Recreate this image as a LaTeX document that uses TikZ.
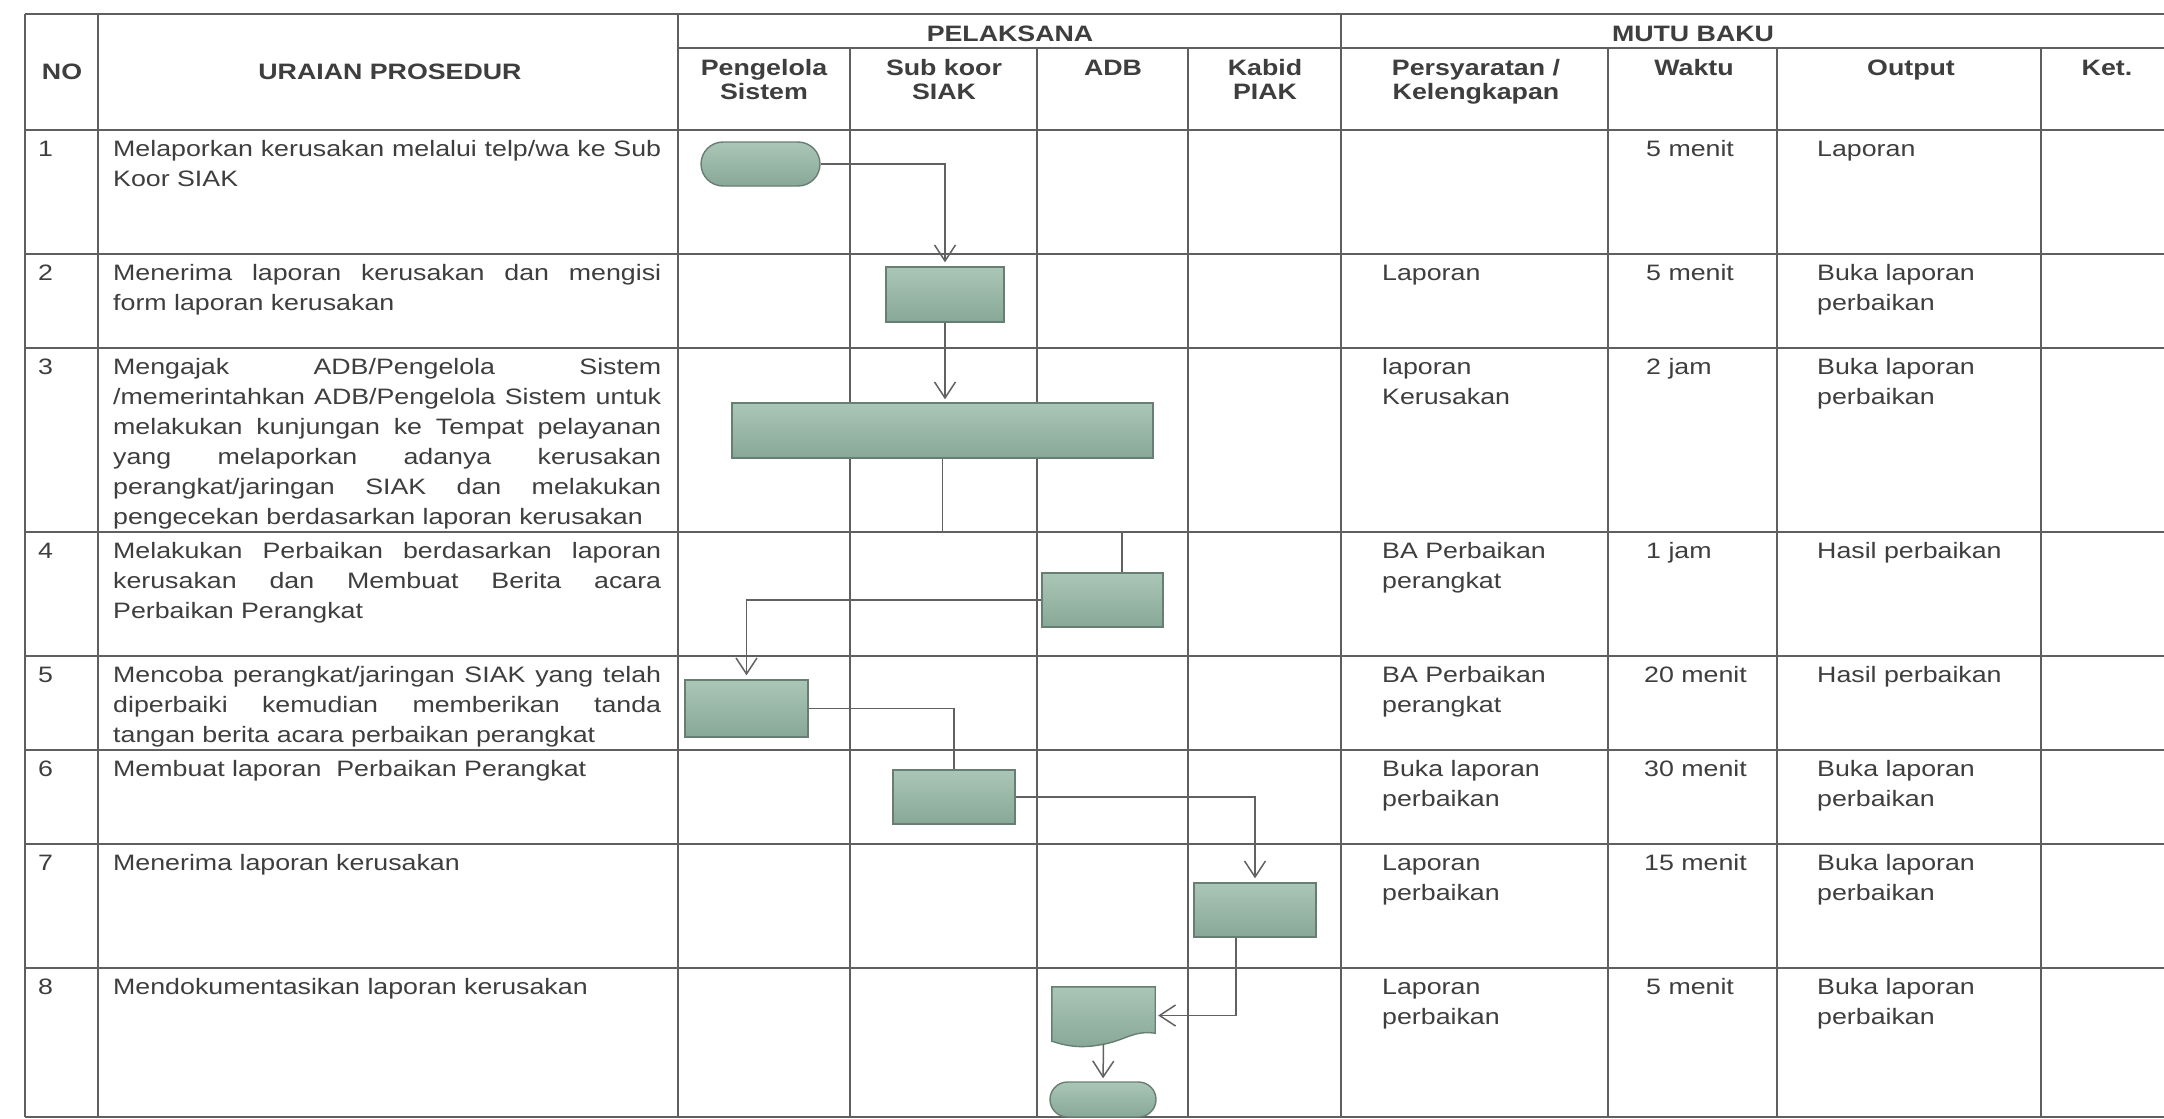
\documentclass[tikz,border=0pt]{standalone}
\usepackage{fontspec}
\setmainfont[FakeStretch=1.2]{Liberation Sans}
\usetikzlibrary{positioning,arrows.meta,calc,shapes.misc}

\definecolor{boxtop}{RGB}{170,198,182}
\definecolor{boxbot}{RGB}{136,168,151}
\definecolor{boxline}{RGB}{105,126,115}
\definecolor{gridline}{RGB}{95,95,95}
\definecolor{ink}{RGB}{62,62,62}

\newcommand{\rowstrut}{\rule{0pt}{22pt}}
\newcommand{\bodyfont}{\fontsize{22.3}{30}\selectfont}
\newcommand{\headfont}{\fontsize{22.3}{24}\selectfont\bfseries}
\lineskiplimit=-100pt
\hyphenpenalty=10000
\tolerance=10000
\setlength{\parindent}{0pt}

\begin{document}
\begin{tikzpicture}[
  x=1pt, y=-1pt,
  >={Straight Barb[length=16pt,width=21pt]},
  grid/.style={draw=gridline, line width=1.6pt},
  txt/.style={inner sep=0pt, anchor=north west, font=\bodyfont, text=ink, align=left},
  uraian/.style={txt, text width=548pt, align=justify},
  head/.style={inner sep=0pt, anchor=north, font=\headfont, text=ink, align=center},
  proc/.style={rectangle, draw=boxline, line width=1.4pt, top color=boxtop, bottom color=boxbot,
    minimum width=#1, minimum height=55pt, inner sep=0pt},
  term/.style={rounded rectangle, draw=boxline, line width=1.4pt, top color=boxtop, bottom color=boxbot,
    minimum width=#1, inner sep=0pt},
  link/.style={draw=black!62, line width=1.5pt}
]

\fill[white] (0,0) rectangle (2164,1119);
\useasboundingbox (0,0) rectangle (2164,1119);

% garis tabel
\draw[grid] (25,14) -- (2164,14);
\draw[grid] (678,48) -- (2164,48);
\foreach \y in {130,254,348,532,656,750,844,968,1117}
  \draw[grid] (25,\y) -- (2164,\y);
\foreach \x in {25,98,678,1341}
  \draw[grid] (\x,14) -- (\x,1117);
\foreach \x in {850,1037,1188,1608,1777,2041}
  \draw[grid] (\x,48) -- (\x,1117);

% kepala tabel
\node (hNo) [head] at (62,57) {\rowstrut NO};
\node (hUraian) [head] at (390,57) {\rowstrut URAIAN PROSEDUR};
\node (hPel) [head] at (1010,19) {\rowstrut PELAKSANA};
\node (hMutu) [head] at (1693,19) {\rowstrut MUTU BAKU};
\node (hPeng) [head] at (764,53.5) {\rowstrut Pengelola\\Sistem};
\node (hSub) [head] at (944,53.5) {\rowstrut Sub koor\\SIAK};
\node (hAdb) [head] at (1113,53.5) {\rowstrut ADB};
\node (hKabid) [head] at (1265,53.5) {\rowstrut Kabid\\PIAK};
\node (hSyarat) [head] at (1476,53.5) {\rowstrut Persyaratan /\\Kelengkapan};
\node (hWaktu) [head] at (1694,53.5) {\rowstrut Waktu};
\node (hOutput) [head] at (1911,53.5) {\rowstrut Output};
\node (hKet) [head] at (2107,53.5) {\rowstrut Ket.};

% kolom NO
\node (no1) [txt] at (38,134) {\rowstrut 1};
\node (no2) [txt] at (38,258) {\rowstrut 2};
\node (no3) [txt] at (38,352) {\rowstrut 3};
\node (no4) [txt] at (38,536) {\rowstrut 4};
\node (no5) [txt] at (38,660) {\rowstrut 5};
\node (no6) [txt] at (38,754) {\rowstrut 6};
\node (no7) [txt] at (38,848) {\rowstrut 7};
\node (no8) [txt] at (38,972) {\rowstrut 8};

% kolom uraian
\node (ur1) [uraian] at (113,134) {\rowstrut Melaporkan kerusakan melalui telp/wa ke Sub\linebreak Koor SIAK};
\node (ur2) [uraian] at (113,258) {\rowstrut Menerima laporan kerusakan dan mengisi\linebreak form laporan kerusakan};
\node (ur3) [uraian] at (113,352) {\rowstrut Mengajak ADB/Pengelola Sistem\linebreak
  /memerintahkan ADB/Pengelola Sistem untuk\linebreak melakukan kunjungan ke Tempat pelayanan\linebreak
  yang melaporkan adanya kerusakan\linebreak perangkat/jaringan SIAK dan melakukan\linebreak
  pengecekan berdasarkan laporan kerusakan};
\node (ur4) [uraian] at (113,536) {\rowstrut Melakukan Perbaikan berdasarkan laporan\linebreak
  kerusakan dan Membuat Berita acara\linebreak Perbaikan Perangkat};
\node (ur5) [uraian] at (113,660) {\rowstrut Mencoba perangkat/jaringan SIAK yang telah\linebreak
  diperbaiki kemudian memberikan tanda\linebreak tangan berita acara perbaikan perangkat};
\node (ur6) [uraian] at (113,754) {\rowstrut Membuat laporan\ \ Perbaikan Perangkat};
\node (ur7) [uraian] at (113,848) {\rowstrut Menerima laporan kerusakan};
\node (ur8) [uraian] at (113,972) {\rowstrut Mendokumentasikan laporan kerusakan};

% kolom persyaratan
\node (sy2) [txt] at (1382,258) {\rowstrut Laporan};
\node (sy3) [txt] at (1382,352) {\rowstrut laporan\\Kerusakan};
\node (sy4) [txt] at (1382,536) {\rowstrut BA Perbaikan\\perangkat};
\node (sy5) [txt] at (1382,660) {\rowstrut BA Perbaikan\\perangkat};
\node (sy6) [txt] at (1382,754) {\rowstrut Buka laporan\\perbaikan};
\node (sy7) [txt] at (1382,848) {\rowstrut Laporan\\perbaikan};
\node (sy8) [txt] at (1382,972) {\rowstrut Laporan\\perbaikan};

% kolom waktu
\node (wk1) [txt] at (1646,134) {\rowstrut 5 menit};
\node (wk2) [txt] at (1646,258) {\rowstrut 5 menit};
\node (wk3) [txt] at (1646,352) {\rowstrut 2 jam};
\node (wk4) [txt] at (1646,536) {\rowstrut 1 jam};
\node (wk5) [txt] at (1644,660) {\rowstrut 20 menit};
\node (wk6) [txt] at (1644,754) {\rowstrut 30 menit};
\node (wk7) [txt] at (1644,848) {\rowstrut 15 menit};
\node (wk8) [txt] at (1646,972) {\rowstrut 5 menit};

% kolom output
\node (op1) [txt] at (1817,134) {\rowstrut Laporan};
\node (op2) [txt] at (1817,258) {\rowstrut Buka laporan\\perbaikan};
\node (op3) [txt] at (1817,352) {\rowstrut Buka laporan\\perbaikan};
\node (op4) [txt] at (1817,536) {\rowstrut Hasil perbaikan};
\node (op5) [txt] at (1817,660) {\rowstrut Hasil perbaikan};
\node (op6) [txt] at (1817,754) {\rowstrut Buka laporan\\perbaikan};
\node (op7) [txt] at (1817,848) {\rowstrut Buka laporan\\perbaikan};
\node (op8) [txt] at (1817,972) {\rowstrut Buka laporan\\perbaikan};

% diagram alir
\node (start) [term=119pt, minimum height=44pt] at (760.5,164) {};
\node (p2) [proc=118pt] at (945,294.5) {};
\node (p3) [proc=421pt] at (942.5,430.5) {};
\node (p4) [proc=121pt, minimum height=54pt] at (1102.5,600) {};
\node (p5) [proc=123pt, minimum height=57pt] at (746.5,708.5) {};
\node (p6) [proc=122pt, minimum height=54pt] at (954,797) {};
\node (p7) [proc=122pt, minimum height=54pt] at (1255,910) {};
\node (doc) [rectangle, minimum width=103pt, minimum height=57pt, inner sep=0pt] at (1103.5,1015.5) {};
\draw[draw=boxline, line width=1.4pt, top color=boxtop, bottom color=boxbot]
  (doc.north west) -- (doc.north east) -- ($(doc.south east)+(0,-11)$)
  .. controls ($(doc.south east)+(-22,-14)$) and ($(doc.south)+(22,-4)$) .. (doc.south)
  .. controls ($(doc.south)+(-20,4)$) and ($(doc.south west)+(18,3)$) .. ($(doc.south west)+(0,-3)$)
  -- cycle;
\node (stop) [term=106pt, minimum height=35pt] at (1103,1099.5) {};

% panah
\coordinate (k34) at (1122,532);
\draw[link,->,shorten >=4pt] (start.east) -| (p2.north);
\draw[link,->,shorten >=3pt] (p2.south) -- (p2.south |- p3.north);
\draw[link] (p3.south) |- (k34) -- (k34 |- p4.north);
\draw[link,->,shorten >=4pt] (p4.west) -| (p5.north);
\draw[link] (p5.east) -| (p6.north);
\draw[link,->,shorten >=4pt] (p6.east) -| (p7.north);
\draw[link,->,shorten >=3pt] ([xshift=-19pt]p7.south) |- (doc.east);
\draw[link,->,shorten >=3pt] (doc.south) -- (stop.north);
\end{tikzpicture}
\end{document}
